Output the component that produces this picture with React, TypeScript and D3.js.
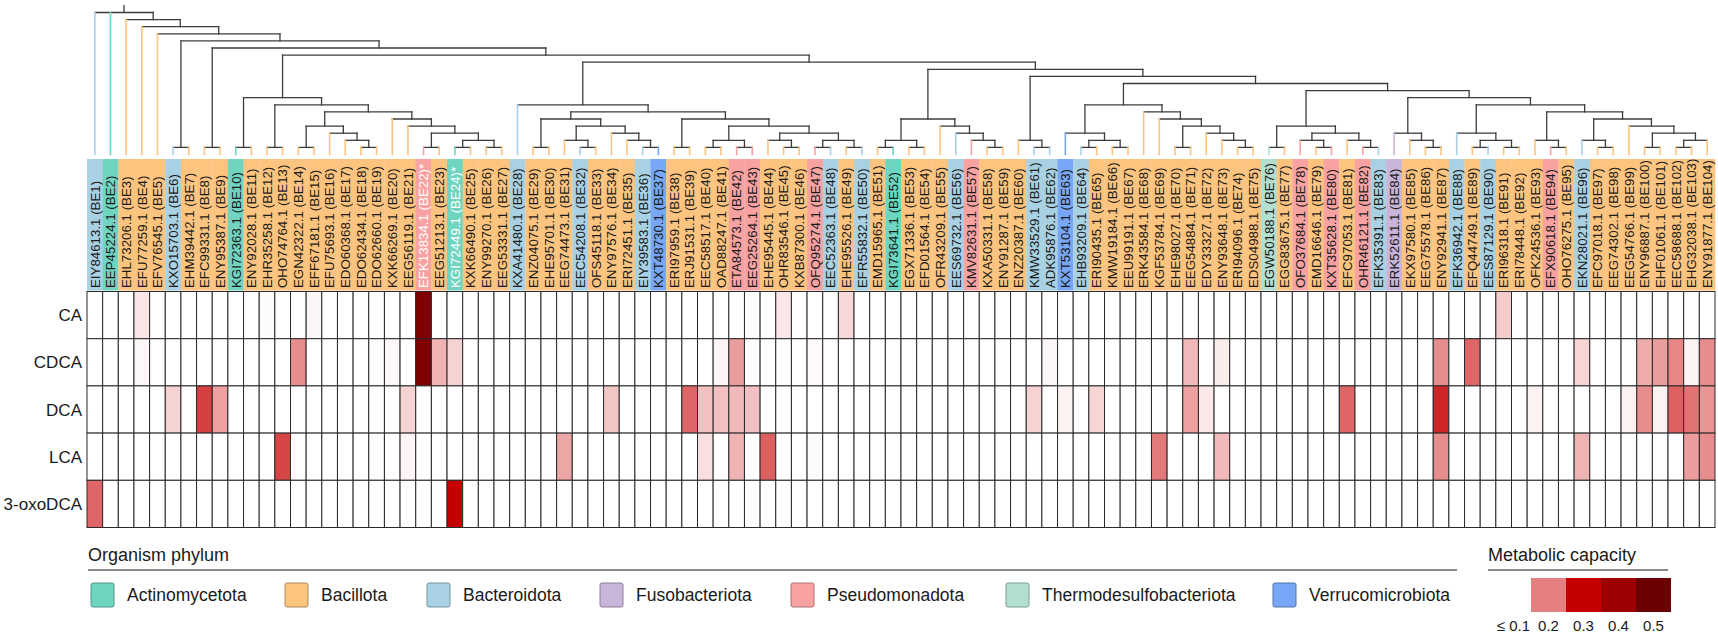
import React, { useMemo } from 'react';
import * as d3 from 'd3';

// ---- data ----
const accessions = [
  'EIY84613.1', 'EEP45224.1', 'EHL73206.1', 'EFU77259.1', 'EFV76545.1', 'KXO15703.1', 'EHM39442.1', 'EFC99331.1',
  'ENY95387.1', 'KGI72363.1', 'ENY92028.1', 'EHR35258.1', 'OHO74764.1', 'EGN42322.1', 'EFF67181.1', 'EFU75693.1',
  'EDO60368.1', 'EDO62434.1', 'EDO62660.1', 'KXK66269.1', 'EEG56119.1', 'EFK13834.1', 'EEG51213.1', 'KGI72449.1',
  'KXK66490.1', 'ENY99270.1', 'EEG53331.1', 'KXA41480.1', 'ENZ04075.1', 'EHE95701.1', 'EEG74473.1', 'EEC54208.1',
  'OFS45118.1', 'ENY97576.1', 'ERI72451.1', 'EIY39583.1', 'KXT48730.1', 'ERI97959.1', 'ERJ91531.1', 'EEC58517.1',
  'OAD88247.1', 'ETA84573.1', 'EEG25264.1', 'EHE95445.1', 'OHR83546.1', 'KXB87300.1', 'OFQ95274.1', 'EEC52363.1',
  'EHE95526.1', 'EFR55832.1', 'EMD15965.1', 'KGI73641.1', 'EGX71336.1', 'EFD01564.1', 'OFR43209.1', 'EES69732.1',
  'KMV82631.1', 'KXA50331.1', 'ENY91287.1', 'ENZ20387.1', 'KMW33529.1', 'ADK95876.1', 'KXT53104.1', 'EHB93209.1',
  'ERI90435.1', 'KMW19184.1', 'EEU99191.1', 'ERK43584.1', 'KGF53784.1', 'EHE98027.1', 'EEG54884.1', 'EDY33327.1',
  'ENY93648.1', 'ERI94096.1', 'EDS04988.1', 'EGW50188.1', 'EGG83675.1', 'OFO37684.1', 'EMD16646.1', 'KXT35628.1',
  'EFC97053.1', 'OHR46121.1', 'EFK35391.1', 'ERK52611.1', 'EKX97580.1', 'EEG75578.1', 'ENY92941.1', 'EFK36942.1',
  'EFQ44749.1', 'EES87129.1', 'ERI96318.1', 'ERI78448.1', 'OFK24536.1', 'EFX90618.1', 'OHO76275.1', 'EKN28021.1',
  'EFC97018.1', 'EEG74302.1', 'EEG54766.1', 'ENY96887.1', 'EHF01061.1', 'EEC58688.1', 'EHG32038.1', 'ENY91877.1',
];

// one letter per enzyme, BE1..BE104
const phylumCodes = (
  'DABBBDBBBA' + 'BBBBBBBBBB' + 'BPBABBBDBB' + 'BDBBBDVBBB' + 'BPPBBBPDBD' +
  'BABBBDPBBB' + 'DDVDBBBBBB' + 'BBBBBTBPBP' + 'BPDFBBBDBD' + 'BBBPBDBBBB' + 'BBBB'
).split('');

const phyla = [
  { code: 'A', name: 'Actinomycetota', color: '#6fd5c1' },
  { code: 'B', name: 'Bacillota', color: '#fcc47e' },
  { code: 'D', name: 'Bacteroidota', color: '#a9d1e4' },
  { code: 'F', name: 'Fusobacteriota', color: '#c9b4da' },
  { code: 'P', name: 'Pseudomonadota', color: '#f8a2a2' },
  { code: 'T', name: 'Thermodesulfobacteriota', color: '#b3dfd0' },
  { code: 'V', name: 'Verrucomicrobiota', color: '#77a7f6' },
];

const starred = [22, 24];

// cladogram topology (leaf numbers = BE index)
const tree: any = [1, 2, [3, [4, [5, [[6, 7], [[8, 9], [
  [[10, 11], [[12, 13], [[[14, 15], [16, [17, [18, 19]]]], [20, [21, [[22, 23], [[24, 25], [26, 27]]]]]]]],
  [
    [28, [[[29, 30], [[31, [32, 33]], [34, [35, [36, 37]]]]], [[38, 39], [[[40, 41], [42, 43]], [[44, [45, 46]], [[47, 48], [49, 50]]]]]]],
    [
      [[[51, 52], [53, 54]], [55, [56, [57, [58, 59]]]]],
      [[60, [61, 62]], [
        [[63, [[64, 65], [66, 67]]], [68, [69, [[70, 71], [72, [73, [74, 75]]]]]]],
        [
          [[76, 77], [[78, [79, 80]], [81, [82, 83]]]],
          [[84, [85, [86, 87]]], [
            [88, [[89, 90], [91, 92]]],
            [[93, [94, 95]], [[96, [97, 98]], [99, [[100, 101], [[102, 103], 104]]]]],
          ]],
        ],
      ]],
    ],
  ],
]]]]]]];

const compounds = ['CA', 'CDCA', 'DCA', 'LCA', '3-oxoDCA'];

// [BE index, metabolic capacity]; all other cells are <= 0.1
const caValues: [number, number][] = [
  [4, 0.12], [12, 0.103], [15, 0.107], [22, 0.46], [45, 0.12], [49, 0.13], [91, 0.14], [93, 0.102],
];
const cdcaValues: [number, number][] = [
  [4, 0.106], [14, 0.19], [19, 0.102], [20, 0.106], [22, 0.46], [23, 0.16], [24, 0.135], [41, 0.108],
  [42, 0.178], [47, 0.104], [62, 0.107], [71, 0.155], [73, 0.115], [87, 0.19], [89, 0.22], [96, 0.133],
  [100, 0.165], [101, 0.178], [102, 0.195], [103, 0.11], [104, 0.19],
];
const dcaValues: [number, number][] = [
  [6, 0.135], [8, 0.25], [9, 0.175], [21, 0.135], [34, 0.145], [39, 0.22], [40, 0.15], [41, 0.15],
  [42, 0.155], [43, 0.15], [61, 0.135], [63, 0.11], [65, 0.133], [71, 0.175], [72, 0.117], [81, 0.22],
  [87, 0.27], [93, 0.11], [99, 0.11], [100, 0.19], [101, 0.11], [102, 0.225], [103, 0.21], [104, 0.185],
];
const lcaValues: [number, number][] = [
  [13, 0.245], [19, 0.102], [21, 0.108], [25, 0.101], [31, 0.17], [40, 0.125], [42, 0.16], [44, 0.225],
  [47, 0.103], [61, 0.101], [69, 0.205], [73, 0.155], [87, 0.19], [96, 0.16], [103, 0.178], [104, 0.19],
];
const oxoDcaValues: [number, number][] = [[1, 0.22], [24, 0.3]];

const capacityBreaks = [0.1, 0.2, 0.3, 0.4, 0.5];
const capacityLabels = ['≤ 0.1', '0.2', '0.3', '0.4', '0.5'];
const capacityColors = ['#ffffff', '#e58080', '#c40000', '#9c0000', '#6a0000'];

// ---- layout ----
const W = 1718;
const H = 633;
const FONT = '"Liberation Sans", Arial, Helvetica, sans-serif';
const legendItemX = [91, 285, 427, 600, 791, 1006, 1273];

const App = () => {
  const ids = d3.range(1, accessions.length + 1);
  const x = d3.scaleBand<number>().domain(ids).range([87, 1715]);
  const yRow = d3.scaleBand<string>().domain(compounds).range([291.5, 527.5]);
  const color = d3.scaleLinear<string>().domain(capacityBreaks).range(capacityColors).clamp(true);
  const phylumOf = (i: number) => phyla.find((p) => p.code === phylumCodes[i - 1])!;

  const rows = [caValues, cdcaValues, dcaValues, lcaValues, oxoDcaValues];
  const cells = compounds.flatMap((c, r) => {
    const m = new Map(rows[r]);
    return ids.map((i) => ({ c, i, v: m.get(i) ?? 0 }));
  });

  const root = useMemo(() => {
    const h = d3.hierarchy<any>(tree, (d) => (Array.isArray(d) ? d : null));
    h.eachAfter((n: any) => {
      if (!n.children) n.px = x(n.data)! + x.bandwidth() / 2;
      else {
        const xs = n.children.map((c: any) => c.px);
        n.px = (d3.min(xs)! + d3.max(xs)!) / 2;
      }
    });
    return h;
  }, []);

  const yTree = d3.scaleLinear().domain([0, root.height]).range([154.5, 12.5]);
  const dark = '#3c3c3c';
  const segs: { x1: number; y1: number; x2: number; y2: number; c: string; w: number }[] = [];
  root.each((n: any) => {
    if (n.parent) {
      const leaf = !n.children;
      segs.push({
        x1: n.px, x2: n.px, y1: yTree(n.parent.height), y2: yTree(n.height),
        c: leaf ? phylumOf(n.data).color : dark, w: leaf ? 1.6 : 1.3,
      });
    }
    if (n.children) {
      const xs = n.children.map((c: any) => c.px);
      segs.push({ x1: d3.min(xs)!, x2: d3.max(xs)!, y1: yTree(n.height), y2: yTree(n.height), c: dark, w: 1.3 });
    }
  });
  const rootX = (root as any).px;

  const keyW = 35;
  const keyX0 = 1496;

  return (
    <svg width={W} height={H} style={{ position: 'absolute', left: 0, top: 0, background: '#fff' }} fontFamily={FONT}>
      {/* dendrogram */}
      <g>
        {segs.map((s, k) => (
          <line key={k} x1={s.x1} y1={s.y1} x2={s.x2} y2={s.y2} stroke={s.c} strokeWidth={s.w} strokeLinecap="square" />
        ))}
        <line x1={rootX} x2={rootX} y1={yTree(root.height)} y2={5} stroke={dark} strokeWidth={1.3} />
      </g>

      {/* column labels */}
      <g>
        {ids.map((i) => {
          const cx = x(i)! + x.bandwidth() / 2;
          const star = starred.includes(i);
          return (
            <g key={i}>
              <rect x={x(i)} y={159} width={x.bandwidth() + 0.3} height={131.5} fill={phylumOf(i).color} />
              <text
                transform={`translate(${cx},288) rotate(-90)`}
                dy="0.36em"
                fontSize={13.3}
                fill={star ? '#ffffff' : '#1a1a1a'}
              >
                {`${accessions[i - 1]} (BE${i})${star ? '*' : ''}`}
              </text>
            </g>
          );
        })}
      </g>

      {/* heatmap */}
      <g>
        {cells.map((d) => (
          <rect
            key={`${d.c}-${d.i}`}
            x={x(d.i)}
            y={yRow(d.c)}
            width={x.bandwidth()}
            height={yRow.bandwidth()}
            fill={color(d.v)}
            stroke="#2a2a2a"
            strokeWidth={1}
          />
        ))}
        {compounds.map((c) => (
          <text key={c} x={82} y={yRow(c)! + yRow.bandwidth() / 2} dy="0.36em" textAnchor="end" fontSize={17} fill="#1a1a1a">
            {c}
          </text>
        ))}
      </g>

      {/* phylum legend */}
      <g>
        <text x={88} y={561} fontSize={18} fill="#1a1a1a">Organism phylum</text>
        <line x1={88} x2={1457} y1={570} y2={570} stroke="#8a8a8a" strokeWidth={2} />
        {phyla.map((p, k) => (
          <g key={p.code} transform={`translate(${legendItemX[k]},583)`}>
            <rect width={23} height={24} rx={2} fill={p.color} stroke={d3.color(p.color)!.darker(1).formatHex()} strokeWidth={1} />
            <text x={36} y={12} dy="0.36em" fontSize={17.5} fill="#1a1a1a">{p.name}</text>
          </g>
        ))}
      </g>

      {/* capacity legend */}
      <g>
        <text x={1488} y={561} fontSize={18} fill="#1a1a1a">Metabolic capacity</text>
        <line x1={1488} x2={1668} y1={570} y2={570} stroke="#8a8a8a" strokeWidth={2} />
        {capacityBreaks.map((b, k) => (
          <g key={b}>
            <rect x={keyX0 + k * keyW} y={578} width={keyW} height={34} fill={color(b)} />
            <text x={keyX0 + k * keyW + keyW / 2} y={631} textAnchor="middle" fontSize={15} fill="#1a1a1a">
              {capacityLabels[k]}
            </text>
          </g>
        ))}
      </g>
    </svg>
  );
};

export default App;
